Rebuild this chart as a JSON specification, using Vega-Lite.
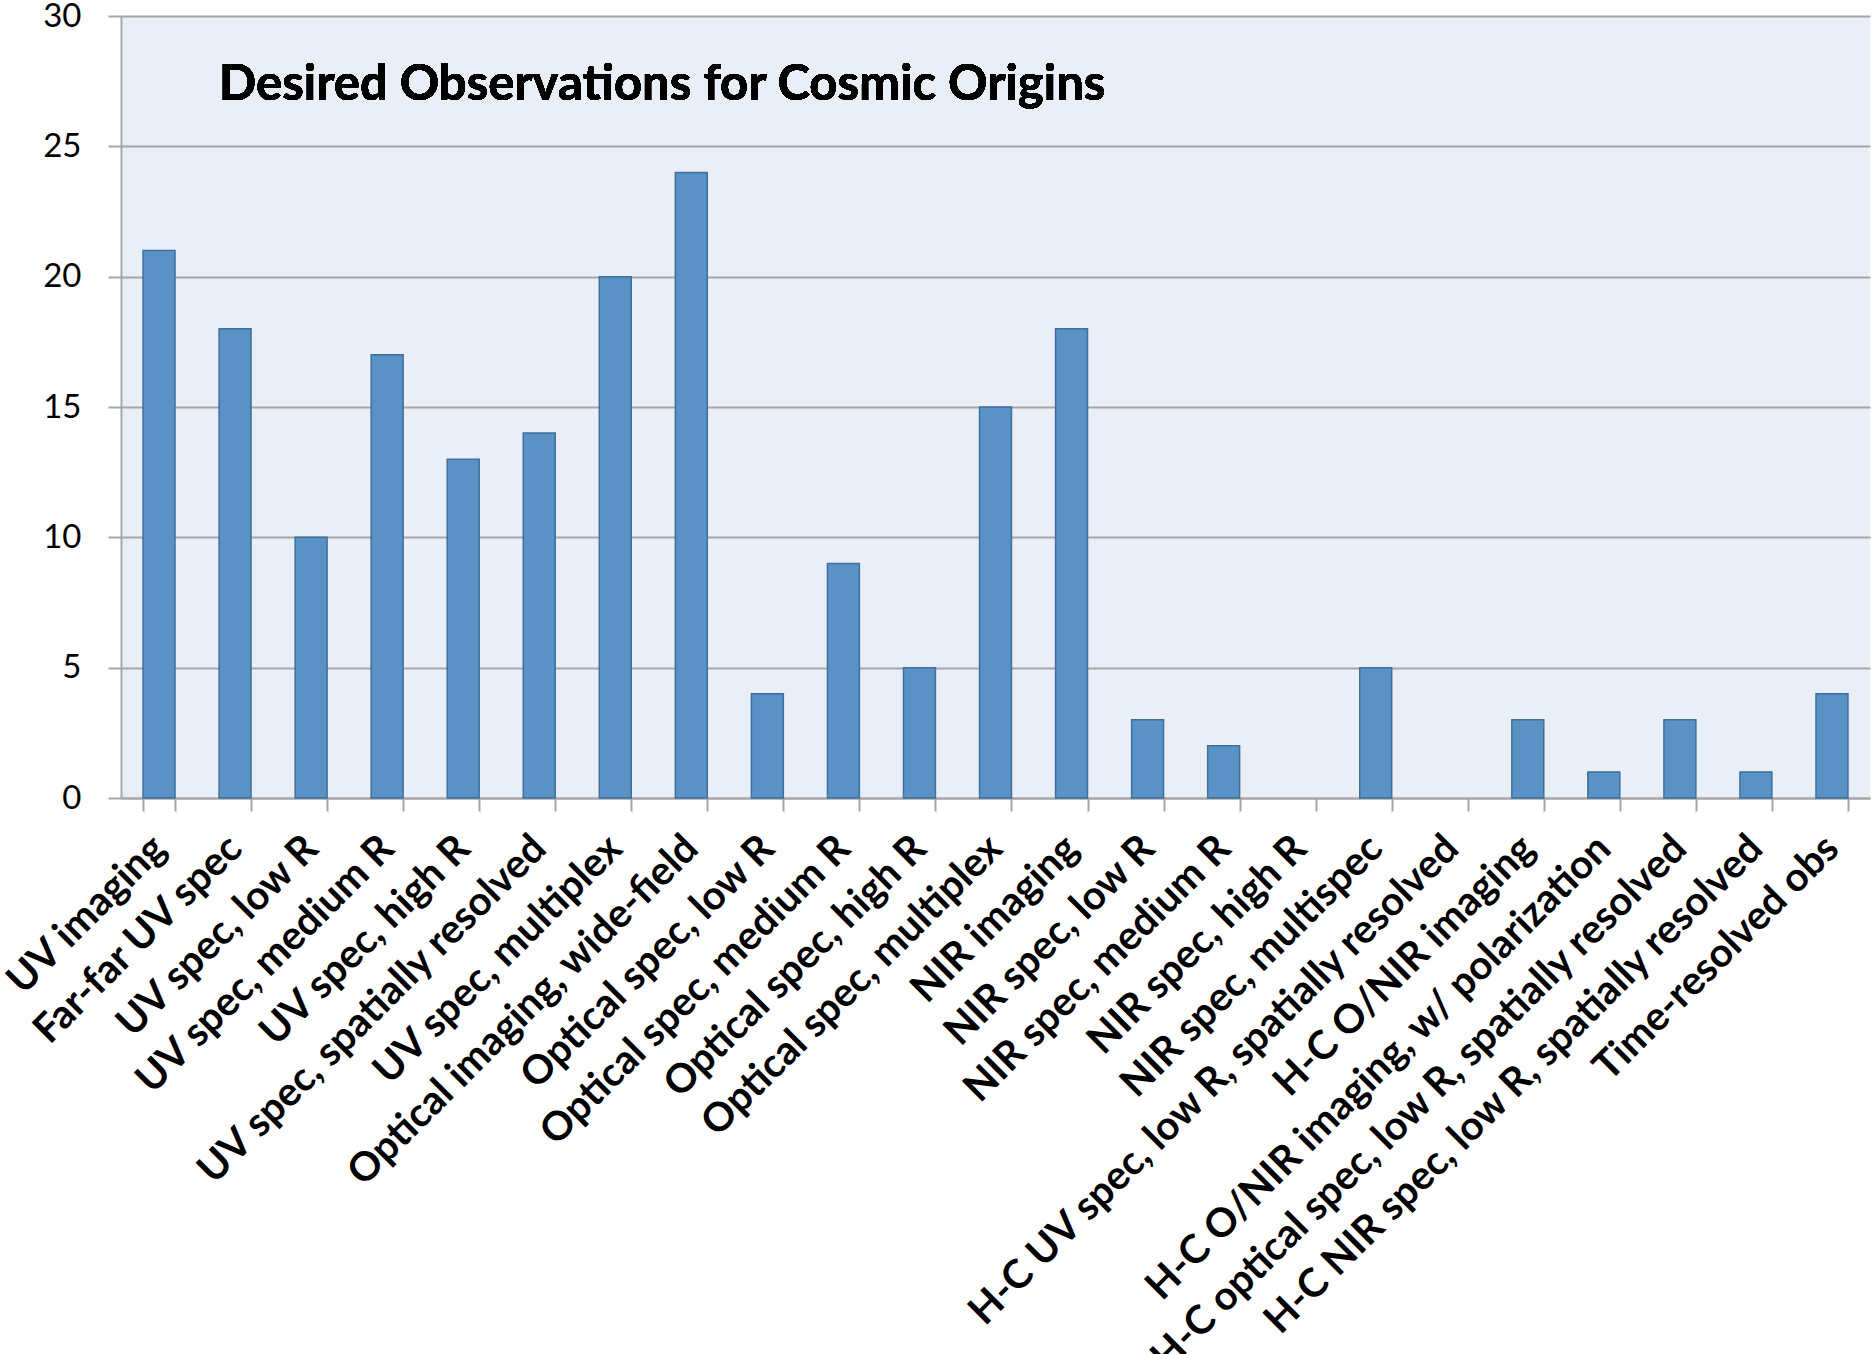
{
  "$schema": "https://vega.github.io/schema/vega-lite/v6.json",
  "autosize": "none",
  "width": 1749,
  "height": 782,
  "padding": {"left": 121, "top": 16, "right": 4, "bottom": 556},
  "background": "white",
  "data": {
    "values": [
      {"obs": "UV imaging", "count": 21},
      {"obs": "Far-far UV spec", "count": 18},
      {"obs": "UV spec, low R", "count": 10},
      {"obs": "UV spec, medium R", "count": 17},
      {"obs": "UV spec, high R", "count": 13},
      {"obs": "UV spec, spatially resolved", "count": 14},
      {"obs": "UV spec, multiplex", "count": 20},
      {"obs": "Optical imaging, wide-field", "count": 24},
      {"obs": "Optical spec, low R", "count": 4},
      {"obs": "Optical spec, medium R", "count": 9},
      {"obs": "Optical spec, high R", "count": 5},
      {"obs": "Optical spec, multiplex", "count": 15},
      {"obs": "NIR imaging", "count": 18},
      {"obs": "NIR spec, low R", "count": 3},
      {"obs": "NIR spec, medium R", "count": 2},
      {"obs": "NIR spec, high R", "count": 0},
      {"obs": "NIR spec, multispec", "count": 5},
      {"obs": "H-C UV spec, low R, spatially resolved", "count": 0},
      {"obs": "H-C O/NIR imaging", "count": 3},
      {"obs": "H-C O/NIR imaging, w/ polarization", "count": 1},
      {"obs": "H-C optical spec, low R, spatially resolved", "count": 3},
      {"obs": "H-C NIR spec, low R, spatially resolved", "count": 1},
      {"obs": "Time-resolved obs", "count": 4}
    ]
  },
  "layer": [
    {
      "mark": {"type": "bar", "color": "#5b92c6", "stroke": "#3e6f9e", "strokeWidth": 1.5},
      "encoding": {
        "x": {
          "field": "obs",
          "type": "nominal",
          "sort": null,
          "scale": {"paddingInner": 0.58, "paddingOuter": 0.29},
          "axis": {
            "title": null,
            "labelAngle": -45,
            "labelAlign": "right",
            "labelBaseline": "middle",
            "labelFont": "Lato",
            "labelFontSize": 40,
            "labelFontWeight": "bold",
            "labelColor": "black",
            "labelPadding": 31,
            "labelLimit": 0,
            "labelOverlap": false,
            "tickBand": "extent",
            "tickColor": "#a6a6a6",
            "tickWidth": 2,
            "tickSize": 13,
            "domainColor": "#a6a6a6",
            "domainWidth": 2,
            "grid": false
          }
        },
        "y": {
          "field": "count",
          "type": "quantitative",
          "scale": {"domain": [0, 30], "nice": false},
          "axis": {
            "title": null,
            "values": [0, 5, 10, 15, 20, 25, 30],
            "labelFont": "Lato",
            "labelFontSize": 33,
            "labelColor": "black",
            "labelPadding": 27,
            "tickColor": "#a6a6a6",
            "tickWidth": 2,
            "tickSize": 13,
            "domainColor": "#a6a6a6",
            "domainWidth": 2,
            "gridColor": "#a6a6a6",
            "gridWidth": 2
          }
        },
        "strokeOpacity": {"condition": {"test": "datum.count == 0", "value": 0}, "value": 1}
      }
    },
    {
      "mark": {
        "type": "text",
        "text": "Desired Observations for Cosmic Origins",
        "align": "left",
        "baseline": "alphabetic",
        "font": "Lato",
        "fontSize": 49,
        "fontWeight": "bold",
        "color": "black"
      },
      "encoding": {
        "x": {"datum": "Far-far UV spec", "bandPosition": 0},
        "y": {"datum": 26.78}
      }
    }
  ],
  "config": {
    "view": {"fill": "#eaeff7", "stroke": null}
  }
}
